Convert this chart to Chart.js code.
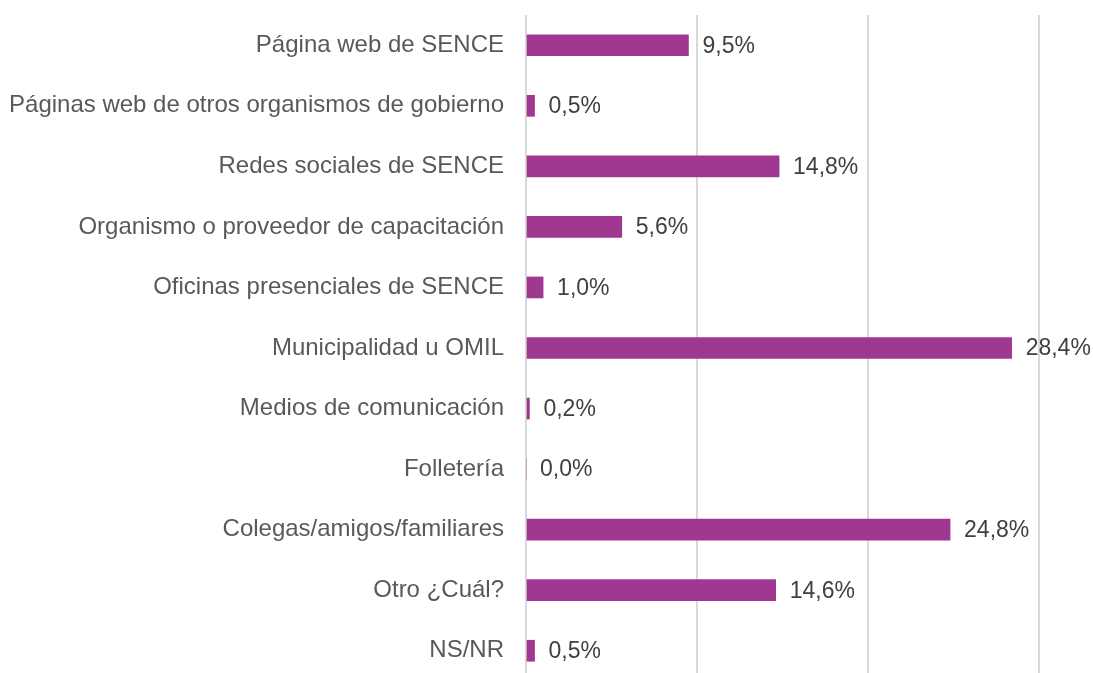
<!DOCTYPE html>
<html><head><meta charset="utf-8">
<script src="https://cdn.jsdelivr.net/npm/chart.js@4"></script>
<style>html,body{margin:0;padding:0;background:#fff;overflow:hidden}#wrap{width:1093px;height:681px;position:relative}</style>
</head><body><div id="wrap"><canvas id="c"></canvas></div>
<script>
const categories = ["Página web de SENCE","Páginas web de otros organismos de gobierno","Redes sociales de SENCE","Organismo o proveedor de capacitación","Oficinas presenciales de SENCE","Municipalidad u OMIL","Medios de comunicación","Folletería","Colegas/amigos/familiares","Otro ¿Cuál?","NS/NR"];
const values = [9.5,0.5,14.8,5.6,1.0,28.4,0.2,0.0,24.8,14.6,0.5];
const FONT = "Liberation Sans";
const labelPlugin = {
  id:'vlabels',
  afterDatasetsDraw(chart){
    const ctx = chart.ctx;
    const meta = chart.getDatasetMeta(0);
    ctx.save();
    ctx.font = "23px 'Liberation Sans'";
    ctx.fillStyle = "#404040";
    ctx.textBaseline = "middle";
    ctx.textAlign = "left";
    meta.data.forEach((bar,i)=>{
      ctx.fillText(values[i].toFixed(1).replace('.',',') + '%', bar.x + 14, bar.y + 1);
    });
    ctx.restore();
  }
};
new Chart(document.getElementById('c'), {
  type:'bar',
  data:{labels:categories, datasets:[{data:values, backgroundColor:'#A03791', barThickness:21}]},
  options:{
    indexAxis:'y', responsive:true, maintainAspectRatio:false, animation:false,
    layout:{padding:{top:15,right:54,left:0,bottom:0}},
    plugins:{legend:{display:false}, tooltip:{enabled:false}},
    scales:{
      x:{min:0,max:30,ticks:{display:false,stepSize:10},
         grid:{color:'#d9d9d9',lineWidth:2,drawTicks:false},
         border:{display:false},
         afterFit(s){s.height=0;s.paddingLeft=0;s.paddingRight=0;}},
      y:{grid:{display:false,drawTicks:false},border:{display:false},
         ticks:{font:{family:FONT,size:24},color:'#595959',padding:22},
         afterFit(s){s.width=526;s.paddingTop=0;s.paddingBottom=0;}}
    }
  },
  plugins:[labelPlugin]
});
</script></body></html>
